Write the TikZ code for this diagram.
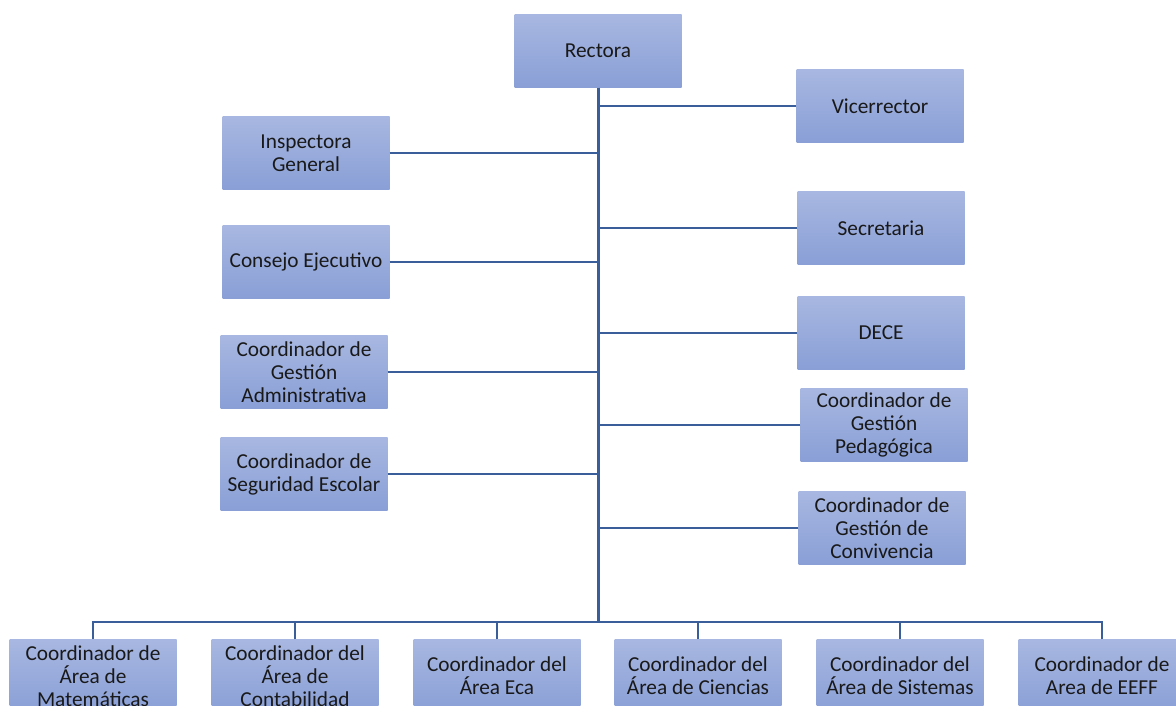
\documentclass[tikz,border=0pt]{standalone}
\usepackage{fontspec}
\setmainfont{Carlito}
\usepackage{tikz}
\usetikzlibrary{positioning}

\definecolor{boxtop}{RGB}{168,183,225}
\definecolor{boxbot}{RGB}{137,159,214}
\definecolor{linkblue}{RGB}{58,94,154}

\begin{document}
\begin{tikzpicture}[
    x=1pt, y=-1pt,
    every node/.style={font=\fontsize{21.3}{23}\selectfont, align=center, text=black!90},
    box/.style={rectangle, top color=boxtop, bottom color=boxbot, minimum width=167pt, minimum height=73pt, inner sep=2pt},
    trunk/.style={draw=linkblue, line width=3pt},
    branch/.style={draw=linkblue, line width=2.2pt},
]
\useasboundingbox (0,0) rectangle (1176,705);

% Top
\node[box] (rect) at (598, 51) {Rectora};

% Left column
\node[box] (insp) at (306, 153) {Inspectora\\General};
\node[box] (cons) at (306, 262) {Consejo Ejecutivo};
\node[box] (admin) at (304, 372) {Coordinador de\\Gestión\\Administrativa};
\node[box] (segur) at (304, 474) {Coordinador de\\Seguridad Escolar};

% Right column
\node[box] (vice) at (880, 106) {Vicerrector};
\node[box] (secr) at (881, 228) {Secretaria};
\node[box] (dece) at (881, 333) {DECE};
\node[box] (pedag) at (884, 425) {Coordinador de\\Gestión\\Pedagógica};
\node[box] (convi) at (882, 528) {Coordinador de\\Gestión de\\Convivencia};

% Bottom row
\node[box] (mate) at (93, 676) {Coordinador de\\Área de\\Matemáticas};
\node[box] (conta) at (295, 676) {Coordinador del\\Área de\\Contabilidad};
\node[box] (eca) at (497, 676) {Coordinador del\\Área Eca};
\node[box] (cien) at (698, 676) {Coordinador del\\Área de Ciencias};
\node[box] (sist) at (900, 676) {Coordinador del\\Área de Sistemas};
\node[box] (eeff) at (1102, 676) {Coordinador de\\Area de EEFF};

% Trunk and bus
\coordinate (bus) at (598, 622);
\draw[trunk] (rect.south) -- (bus);
\draw[branch] (mate.north) |- (bus);
\draw[branch] (eeff.north) |- (bus);
\foreach \n in {conta, eca, cien, sist}
  \draw[branch] (\n.north) -- (\n.north |- bus);

% Side branches
\foreach \n in {insp, cons, admin, segur}
  \draw[branch] (\n.east) -- (\n.east -| rect.south);
\foreach \n in {vice, secr, dece, pedag, convi}
  \draw[branch] (\n.west) -- (\n.west -| rect.south);
\end{tikzpicture}
\end{document}
